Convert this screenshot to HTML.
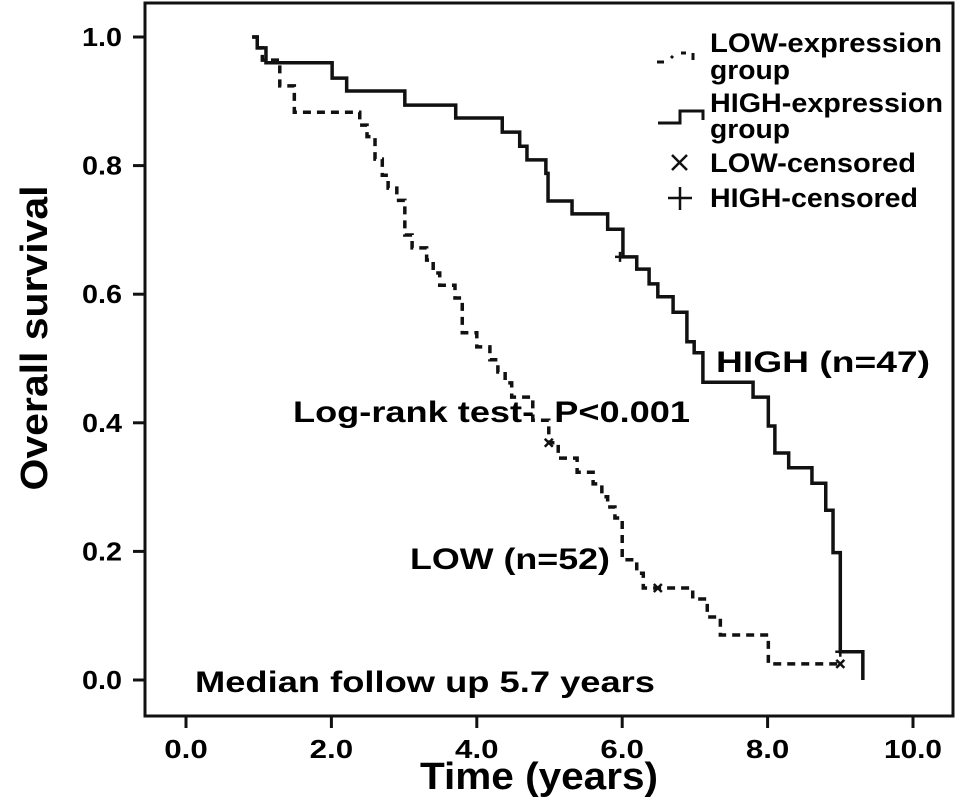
<!DOCTYPE html>
<html><head><meta charset="utf-8"><style>
html,body{margin:0;padding:0;background:#fff;}
svg{display:block;font-family:"Liberation Sans",Arial,sans-serif;font-weight:bold;}
</style></head><body>
<svg id="chart" width="969" height="801" viewBox="0 0 969 801">
<rect x="145" y="3" width="808" height="713" fill="none" stroke="#111" stroke-width="3"/>
<g id="axes"></g>
<g id="series"></g>
<text x="47" y="338" font-size="38" text-anchor="middle" textLength="305" lengthAdjust="spacingAndGlyphs" transform="rotate(-90 47 338)">Overall survival</text>
<text x="420" y="789" font-size="38" textLength="238" lengthAdjust="spacingAndGlyphs">Time (years)</text>
<text x="293" y="422" font-size="30" textLength="397" lengthAdjust="spacingAndGlyphs">Log-rank test-&#160;&#160;P&lt;0.001</text>
<text x="716" y="372" font-size="30" textLength="214" lengthAdjust="spacingAndGlyphs">HIGH (n=47)</text>
<text x="410" y="569" font-size="30" textLength="200" lengthAdjust="spacingAndGlyphs">LOW (n=52)</text>
<text x="195" y="692" font-size="30" textLength="460" lengthAdjust="spacingAndGlyphs">Median follow up 5.7 years</text>
<g font-size="27">
 <path d="M657 62 H664 M671 58 L673 56 M681 53 H686 M693 53 V60" stroke="#111" stroke-width="3" fill="none"/>
 <text x="710" y="52" textLength="232" lengthAdjust="spacingAndGlyphs">LOW-expression</text>
 <text x="710" y="79" textLength="80" lengthAdjust="spacingAndGlyphs">group</text>
 <path d="M658 123 H680 V111 H703 V120" stroke="#111" stroke-width="3" fill="none"/>
 <text x="710" y="112" textLength="233" lengthAdjust="spacingAndGlyphs">HIGH-expression</text>
 <text x="710" y="138" textLength="80" lengthAdjust="spacingAndGlyphs">group</text>
 <path d="M672 155 L687 170 M687 155 L672 170" stroke="#111" stroke-width="2.5"/>
 <text x="710" y="172" textLength="206" lengthAdjust="spacingAndGlyphs">LOW-censored</text>
 <path d="M668 198 H692 M680 187 V210" stroke="#111" stroke-width="2.5"/>
 <text x="710" y="207" textLength="208" lengthAdjust="spacingAndGlyphs">HIGH-censored</text>
</g>
</svg>
<script>
const xTicks = [0, 2, 4, 6, 8, 10];
const yTicks = [0, 0.2, 0.4, 0.6, 0.8, 1.0];
const highTimes = [0.91, 0.98, 1.10, 2.01, 2.21, 3.01, 3.71, 4.35, 4.59, 4.69, 4.95, 4.98, 5.31, 5.80, 6.01, 6.20, 6.37, 6.49, 6.70, 6.89, 6.99, 7.11, 7.80, 8.01, 8.10, 8.29, 8.61, 8.80, 8.90, 9.00, 9.31];
const highSurv  = [1.0, 0.983, 0.96, 0.936, 0.916, 0.894, 0.874, 0.852, 0.830, 0.809, 0.788, 0.745, 0.725, 0.701, 0.658, 0.639, 0.616, 0.596, 0.572, 0.526, 0.509, 0.463, 0.440, 0.395, 0.353, 0.330, 0.306, 0.264, 0.198, 0.044, 0.0];
const lowTimes = [0.91, 0.98, 1.05, 1.29, 1.49, 2.39, 2.49, 2.60, 2.70, 2.78, 2.90, 3.01, 3.11, 3.31, 3.40, 3.49, 3.70, 3.80, 4.00, 4.18, 4.29, 4.39, 4.48, 4.77, 4.99, 5.12, 5.38, 5.60, 5.72, 5.80, 5.90, 6.00, 6.20, 6.29, 6.97, 7.17, 7.35, 8.01];
const lowSurv  = [1.0, 0.983, 0.964, 0.924, 0.883, 0.863, 0.845, 0.810, 0.785, 0.765, 0.746, 0.692, 0.672, 0.653, 0.633, 0.614, 0.594, 0.540, 0.518, 0.498, 0.479, 0.462, 0.440, 0.404, 0.369, 0.345, 0.323, 0.305, 0.285, 0.269, 0.252, 0.187, 0.166, 0.143, 0.126, 0.098, 0.070, 0.025];
const lowEnd = 9.0;
const lowCensorT = [4.99, 6.49, 9.0];
const lowCensorS = [0.369, 0.143, 0.025];
const highCensorT = [5.97, 9.0];
const highCensorS = [0.658, 0.044];

const NS = 'http://www.w3.org/2000/svg';
const X = t => 186 + t * 72.7;
const Y = s => 680 - s * 643;
function mk(tag, attrs, parent) {
  const e = document.createElementNS(NS, tag);
  for (const k in attrs) e.setAttribute(k, attrs[k]);
  parent.appendChild(e);
  return e;
}
const axes = document.getElementById('axes');
xTicks.forEach(v => {
  const l = mk('line', {x1: X(v), x2: X(v), y1: 716, y2: 728, stroke: '#111', 'stroke-width': 3}, axes);
  
  
  const lbl = v.toFixed(1);
  const t = mk('text', {x: X(v), y: 758, 'font-size': 26, 'text-anchor': 'middle', textLength: lbl.length * 14.5, lengthAdjust: 'spacingAndGlyphs'}, axes);
  t.textContent = lbl;
  
  
});
yTicks.forEach(v => {
  const l = mk('line', {x1: 133, x2: 145, y1: Y(v), y2: Y(v), stroke: '#111', 'stroke-width': 3}, axes);
  
  
  const t = mk('text', {x: 122, y: Y(v) + 9, 'font-size': 26, 'text-anchor': 'end', textLength: 40, lengthAdjust: 'spacingAndGlyphs'}, axes);
  t.textContent = v.toFixed(1);
  
  
});
const series = document.getElementById('series');
function stepPath(ts, ss, endT) {
  let d = 'M' + X(ts[0]) + ' ' + Y(ss[0]);
  for (let i = 1; i < ts.length; i++) {
    d += ' H' + X(ts[i]) + ' V' + Y(ss[i]);
  }
  if (endT !== undefined) d += ' H' + X(endT);
  return d;
}
const hp = mk('path', {d: stepPath(highTimes, highSurv), fill: 'none', stroke: '#111', 'stroke-width': 3.5}, series);


const lp = mk('path', {d: stepPath(lowTimes, lowSurv, lowEnd), fill: 'none', stroke: '#111', 'stroke-width': 3.5, 'stroke-dasharray': '8 6'}, series);


lowCensorT.forEach((t, i) => {
  const x = X(t), y = Y(lowCensorS[i]);
  const c = mk('path', {d: `M${x-4} ${y-4} L${x+4} ${y+4} M${x+4} ${y-4} L${x-4} ${y+4}`, stroke: '#111', 'stroke-width': 2.5}, series);
  
  
});
highCensorT.forEach((t, i) => {
  const x = X(t), y = Y(highCensorS[i]);
  const c = mk('path', {d: `M${x-5} ${y} H${x+5} M${x} ${y-5} V${y+5}`, stroke: '#111', 'stroke-width': 2.5}, series);
  
  
});
</script>
</body></html>
